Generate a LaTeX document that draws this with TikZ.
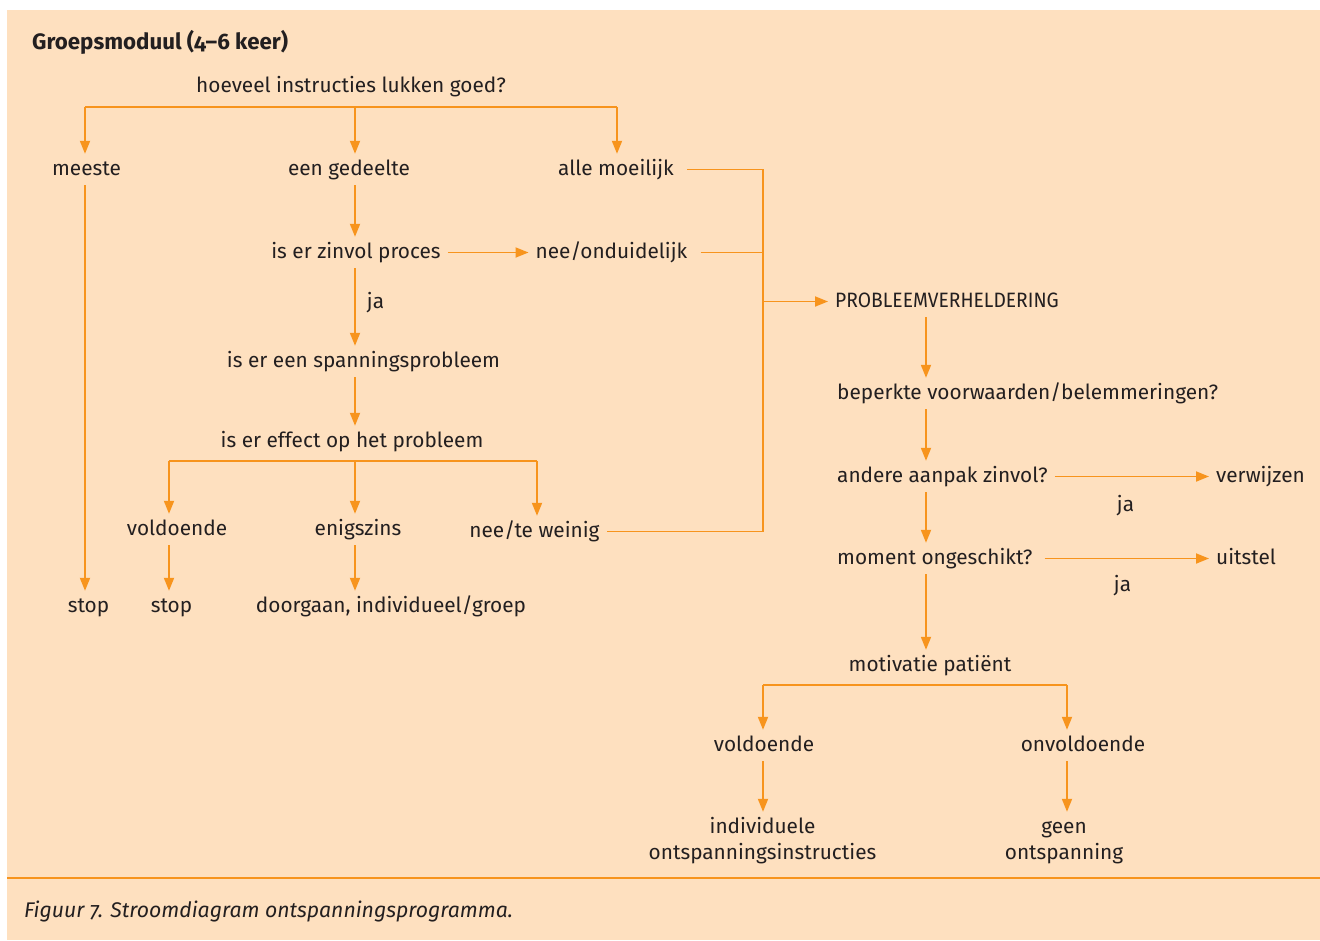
\documentclass[tikz,border=0pt]{standalone}
\usepackage{fontspec}
\setmainfont{Fira Sans}
\usetikzlibrary{arrows.meta}
\definecolor{bg}{HTML}{FEE0BF}
\definecolor{ora}{HTML}{F7941D}
\definecolor{ink}{HTML}{231F20}
\begin{document}
\begin{tikzpicture}[x=1pt,y=-1pt,
  txt/.style={anchor=base, inner xsep=7pt, inner ysep=6pt, text height=15pt,
    text depth=4pt, text=ink, font=\fontsize{20.8}{26}\selectfont},
  txtl/.style={txt, anchor=base west},
  multi/.style={anchor=base, inner xsep=7pt, inner ysep=6pt, text height=41pt,
    text depth=4pt, text=ink, align=center, font=\fontsize{20.8}{26}\selectfont},
  ln/.style={draw=ora, line width=1.8pt},
  arr/.style={ln, -{Triangle[length=13pt,width=10pt]}}]
  \useasboundingbox (0,0) rectangle (1320,940);
  \fill[bg] (7,10) rectangle (1320,940);

  % column and bar positions
  \coordinate (cA) at (85,0);
  \coordinate (cB) at (355,0);
  \coordinate (cC) at (617,0);
  \coordinate (cD) at (169,0);
  \coordinate (cE) at (537,0);
  \coordinate (cF) at (763,0);
  \coordinate (cG) at (926,0);
  \coordinate (cH) at (1067,0);
  \coordinate (bar1) at (351,107);
  \coordinate (bar2) at (352,461);
  \coordinate (bar3) at (930,685);

  % title
  \node[txtl, font=\fontsize{22.3}{26}\selectfont\bfseries\addfontfeatures{Numbers=OldStyle}] (title) at (25,49) {Groepsmoduul (4–6 keer)};

  % left part
  \node[txt] (q1) at (351,92) {hoeveel instructies lukken goed?};
  \node[txt] (meeste) at (86.5,175) {meeste};
  \node[txt] (gedeelte) at (349,175) {een gedeelte};
  \node[txt] (alle) at (616,175) {alle moeilijk};
  \node[txt] (zinvol) at (356,258) {is er zinvol proces};
  \node[txt] (neeond) at (611.5,258) {nee/onduidelijk};
  \node[txt] (ja1) at (375.5,308) {ja};
  \node[txt] (spanning) at (363.5,367) {is er een spanningsprobleem};
  \node[txt] (effect) at (352,447) {is er effect op het probleem};
  \node[txt] (vold1) at (177,535) {voldoende};
  \node[txt] (enig) at (358,535) {enigszins};
  \node[txt] (neetw) at (534.5,537) {nee/te weinig};
  \node[txt] (stop1) at (88.5,612) {stop};
  \node[txt] (stop2) at (171.5,612) {stop};
  \node[txt] (door) at (391,612) {doorgaan, individueel/groep};

  % right part
  \node[txtl] (probl) at (828,307) {\scalebox{0.925}[1]{PROBLEEMVERHELDERING}};
  \node[txtl] (beperkt) at (830,399) {beperkte voorwaarden/belemmeringen?};
  \node[txtl] (andere) at (830,482) {andere aanpak zinvol?};
  \node[txtl] (verw) at (1209,482) {verwijzen};
  \node[txt] (ja2) at (1125.5,511) {ja};
  \node[txtl] (moment) at (830,564) {moment ongeschikt?};
  \node[txtl] (uitstel) at (1209,564) {uitstel};
  \node[txt] (ja3) at (1122.5,591) {ja};
  \node[txt] (motiv) at (930,671) {motivatie patiënt};
  \node[txt] (vold2) at (764,751) {voldoende};
  \node[txt] (onvold) at (1083,751) {onvoldoende};
  \node[multi] (indiv) at (762.5,859) {individuele\\ontspanningsinstructies};
  \node[multi] (geen) at (1064,859) {geen\\ontspanning};

  % caption
  \node[txtl, font=\fontsize{21.2}{26}\selectfont\itshape\addfontfeatures{Numbers=OldStyle}] (cap) at (17,917) {Figuur 7. Stroomdiagram ontspanningsprogramma.};
  \draw[ln] (7,878) -- (1320,878);

  % connectors, left part
  \draw[ln] (cA |- bar1) -- (cC |- bar1);
  \draw[arr] (cA |- bar1) -- (cA |- meeste.north);
  \draw[arr] (cB |- bar1) -- (cB |- gedeelte.north);
  \draw[arr] (cC |- bar1) -- (cC |- alle.north);
  \draw[arr] (cA |- meeste.south) -- (cA |- stop1.north);
  \draw[arr] (cB |- gedeelte.south) -- (cB |- zinvol.north);
  \draw[arr] (zinvol.east) -- (neeond.west);
  \draw[arr] (cB |- zinvol.south) -- (cB |- spanning.north);
  \draw[arr] (cB |- spanning.south) -- (cB |- effect.north);
  \draw[ln] (cD |- bar2) -- (cE |- bar2);
  \draw[arr] (cD |- bar2) -- (cD |- vold1.north);
  \draw[arr] (cB |- bar2) -- (cB |- enig.north);
  \draw[arr] (cE |- bar2) -- (cE |- neetw.north);
  \draw[arr] (cD |- vold1.south) -- (cD |- stop2.north);
  \draw[arr] (cB |- enig.south) -- (cB |- door.north);

  % connectors into the clarification branch
  \draw[ln, shorten <=6pt] (alle.east) -| (cF |- neetw.east) -- (neetw.east);
  \draw[ln, shorten <=6pt] (neeond.east) -- (cF |- neeond.east);
  \draw[arr] (cF |- probl.west) -- (probl.west);

  % connectors, right part
  \draw[arr] (cG |- probl.south) -- (cG |- beperkt.north);
  \draw[arr] (cG |- beperkt.south) -- (cG |- andere.north);
  \draw[arr] (andere.east) -- (verw.west);
  \draw[arr] (cG |- andere.south) -- (cG |- moment.north);
  \draw[arr, shorten <=5pt] (moment.east) -- (uitstel.west);
  \draw[arr] (cG |- moment.south) -- (cG |- motiv.north);
  \draw[ln] (cF |- bar3) -- (cH |- bar3);
  \draw[arr] (cF |- bar3) -- (cF |- vold2.north);
  \draw[arr] (cH |- bar3) -- (cH |- onvold.north);
  \draw[arr] (cF |- vold2.south) -- (cF |- indiv.north);
  \draw[arr] (cH |- onvold.south) -- (cH |- geen.north);
\end{tikzpicture}
\end{document}
